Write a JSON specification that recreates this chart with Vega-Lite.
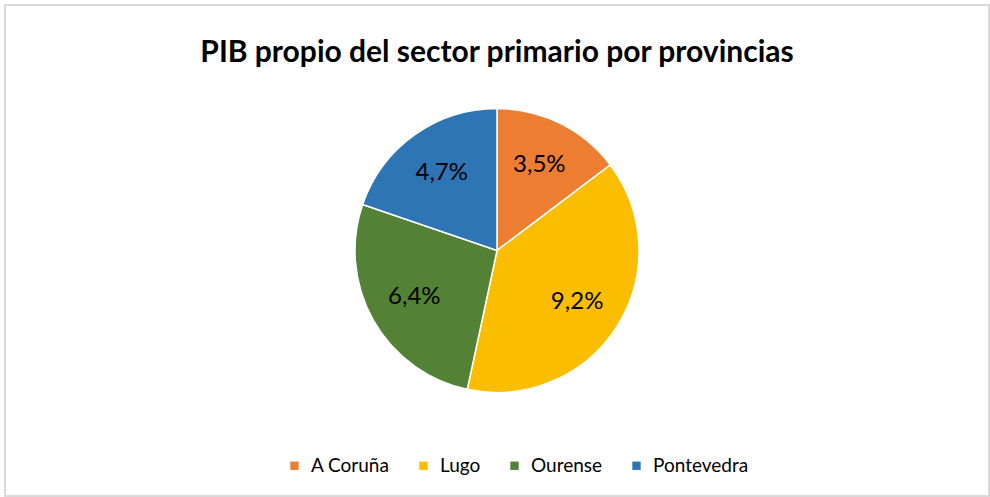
{
  "$schema": "https://vega.github.io/schema/vega-lite/v6.json",
  "width": 990,
  "height": 497,
  "autosize": {"type": "fit", "contains": "padding"},
  "padding": {"left": 4, "top": 4, "right": 0, "bottom": 0},
  "background": "white",
  "config": {
    "view": {"stroke": null},
    "font": "Lato"
  },
  "title": {
    "text": "PIB propio del sector primario por provincias",
    "font": "Lato",
    "fontSize": 30,
    "fontWeight": "bold",
    "color": "#000000",
    "anchor": "middle",
    "frame": "group",
    "orient": "top",
    "offset": -64
  },
  "data": {
    "values": [
      {"provincia": "A Coruña", "valor": 3.5, "etiqueta": "3,5%"},
      {"provincia": "Lugo", "valor": 9.2, "etiqueta": "9,2%"},
      {"provincia": "Ourense", "valor": 6.4, "etiqueta": "6,4%"},
      {"provincia": "Pontevedra", "valor": 4.7, "etiqueta": "4,7%"}
    ]
  },
  "layer": [
    {
      "mark": {"type": "rect", "fill": null, "stroke": "#d9d9d9", "strokeWidth": 1.5},
      "encoding": {}
    },
    {
      "mark": {"type": "arc", "outerRadius": 142, "stroke": "white", "strokeWidth": 1.5},
      "encoding": {
        "theta": {"field": "valor", "type": "quantitative", "stack": true},
        "order": {"field": "provincia", "sort": "ascending"},
        "color": {
          "field": "provincia",
          "type": "nominal",
          "scale": {
            "domain": ["A Coruña", "Lugo", "Ourense", "Pontevedra"],
            "range": ["#ED7D31", "#FBBD00", "#538135", "#2E75B6"]
          },
          "legend": {
            "title": null,
            "orient": "none",
            "direction": "horizontal",
            "legendX": 280,
            "legendY": 451,
            "symbolType": "square",
            "symbolSize": 70,
            "symbolStrokeWidth": 0,
            "labelFontSize": 19,
            "labelFont": "Lato",
            "labelColor": "#000000",
            "columnPadding": 24,
            "labelOffset": 7
          }
        }
      }
    },
    {
      "mark": {"type": "text", "radius": 95, "fontSize": 24, "font": "Lato", "color": "#000000"},
      "encoding": {
        "theta": {"field": "valor", "type": "quantitative", "stack": true},
        "order": {"field": "provincia", "sort": "ascending"},
        "detail": {"field": "provincia", "type": "nominal"},
        "text": {"field": "etiqueta", "type": "nominal"}
      }
    }
  ]
}
